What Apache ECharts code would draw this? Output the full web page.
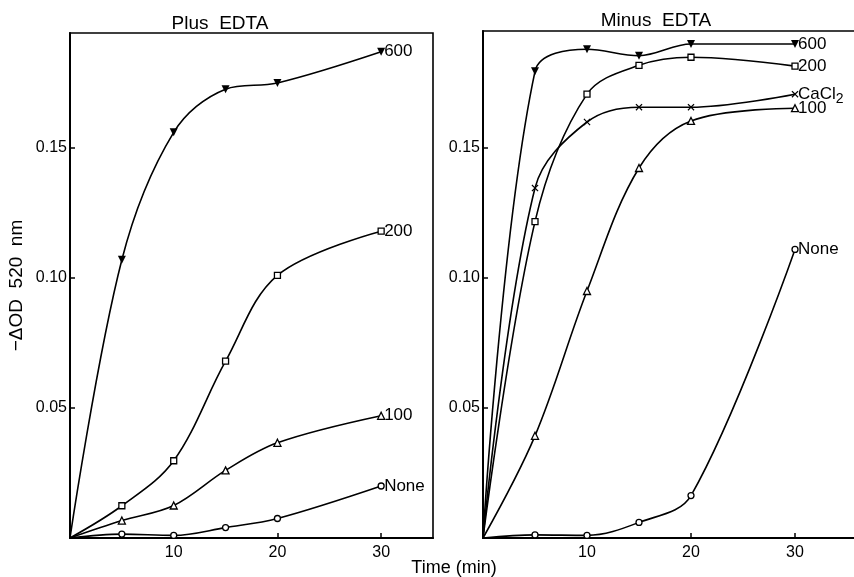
<!DOCTYPE html>
<html>
<head>
<meta charset="utf-8">
<script src="https://cdn.jsdelivr.net/npm/echarts@6/dist/echarts.min.js"></script>
<style>
  html, body { margin: 0; padding: 0; background: #fff; }
  #chart { width: 854px; height: 577px; }
</style>
</head>
<body>
<div id="chart"></div>
<script>
// Sampling times (min)
const minutes = [0, 5, 10, 15, 20, 30];

// -ΔOD 520 nm, plus EDTA
const plus600  = [0, 0.107, 0.156, 0.1726, 0.175, 0.187];
const plus200  = [0, 0.0124, 0.0297, 0.068, 0.101, 0.118];
const plus100  = [0, 0.0067, 0.0125, 0.026, 0.0366, 0.047];
const plusNone = [0, 0.0015, 0.001, 0.004, 0.0075, 0.020];

// -ΔOD 520 nm, minus EDTA
const minus600   = [0, 0.1795, 0.188, 0.1855, 0.190, 0.190];
const minus200   = [0, 0.1217, 0.1707, 0.1818, 0.1849, 0.1815];
const minusCaCl2 = [0, 0.1346, 0.160, 0.1657, 0.1657, 0.1707];
const minus100   = [0, 0.0393, 0.095, 0.1423, 0.1604, 0.1653];
const minusNone  = [0, 0.0012, 0.001, 0.006, 0.0163, 0.111];

// Axis ticks
const yTicks = [0.05, 0.10, 0.15];
const xTicks = [10, 20, 30];

const FONT = '"Liberation Sans", Arial, sans-serif';
const X_PATH = 'path://M0,1.2L1.2,0L5,3.8L8.8,0L10,1.2L6.2,5L10,8.8L8.8,10L5,6.2L1.2,10L0,8.8L3.8,5Z';

const markerStyles = {
  tri_down: { symbol: 'triangle', symbolRotate: 180, symbolSize: 8, itemStyle: { color: '#000', borderColor: '#000', borderWidth: 0 } },
  square:   { symbol: 'rect', symbolSize: 6, itemStyle: { color: '#fff', borderColor: '#000', borderWidth: 1.3 } },
  tri_up:   { symbol: 'triangle', symbolSize: 7, itemStyle: { color: '#fff', borderColor: '#000', borderWidth: 1.3 } },
  circle:   { symbol: 'circle', symbolSize: 6, itemStyle: { color: '#fff', borderColor: '#000', borderWidth: 1.3 } },
  cross:    { symbol: X_PATH, symbolSize: 7, itemStyle: { color: '#000', borderWidth: 0 } }
};

function makeSeries(name, values, marker, panel, labelText, rich) {
  const m = markerStyles[marker];
  return {
    name: name,
    type: 'line',
    xAxisIndex: panel,
    yAxisIndex: panel,
    smooth: 0.35,
    symbol: m.symbol,
    symbolSize: m.symbolSize,
    symbolRotate: m.symbolRotate || 0,
    showAllSymbol: true,
    itemStyle: m.itemStyle,
    lineStyle: { color: '#000', width: 1.6 },
    z: 3,
    data: minutes.map((t, i) => i === 0 ? { value: [t, values[i]], symbol: 'none' } : [t, values[i]]),
    endLabel: {
      show: true,
      formatter: labelText,
      distance: 3,
      color: '#000',
      fontFamily: FONT,
      fontSize: 17,
      rich: rich || undefined
    },
    animation: false
  };
}

const chart = echarts.init(document.getElementById('chart'), null, { renderer: 'canvas' });

const xAxisBase = {
  type: 'value',
  min: 0,
  interval: 10,
  axisLine: { show: true, onZero: false, lineStyle: { color: '#000', width: 2.2 } },
  axisTick: { show: true, inside: true, length: 5, customValues: xTicks, lineStyle: { color: '#000', width: 1.5 } },
  axisLabel: { show: true, customValues: xTicks, color: '#000', fontFamily: FONT, fontSize: 16, margin: 7 },
  splitLine: { show: false }
};

const yAxisBase = {
  type: 'value',
  min: 0,
  interval: 0.05,
  axisLine: { show: true, onZero: false, lineStyle: { color: '#000', width: 2 } },
  axisTick: { show: true, inside: true, length: 5, customValues: yTicks, lineStyle: { color: '#000', width: 1.5 } },
  axisLabel: {
    show: true, customValues: yTicks, color: '#000', fontFamily: FONT, fontSize: 16, margin: 3,
    formatter: v => v.toFixed(2)
  },
  splitLine: { show: false }
};

const titleStyle = { fontFamily: FONT, fontSize: 19, fontWeight: 'normal', color: '#000' };

chart.setOption({
  backgroundColor: '#fff',
  animation: false,
  title: [
    { text: 'Plus  EDTA', left: 215, top: 9, textAlign: 'center', textStyle: titleStyle },
    { text: 'Minus  EDTA', left: 651, top: 6, textAlign: 'center', textStyle: titleStyle },
    { text: 'Time (min)', left: 449, top: 554, textAlign: 'center',
      textStyle: Object.assign({}, titleStyle, { fontSize: 18 }) }
  ],
  grid: [
    { left: 70, top: 33, width: 363, height: 505, outerBoundsMode: 'none',
      show: true, borderColor: '#000', borderWidth: 1.6, backgroundColor: 'transparent' },
    { left: 483, top: 31, width: 390, height: 507, outerBoundsMode: 'none',
      show: true, borderColor: '#000', borderWidth: 1.6, backgroundColor: 'transparent' }
  ],
  xAxis: [
    Object.assign({}, xAxisBase, { gridIndex: 0, max: 35 }),
    Object.assign({}, xAxisBase, { gridIndex: 1, max: 37.5 })
  ],
  yAxis: [
    Object.assign({}, yAxisBase, {
      gridIndex: 0, max: 0.1942,
      name: '\u2212\u0394OD  520  nm', nameLocation: 'middle', nameRotate: 90, nameGap: 44,
      nameTextStyle: { fontFamily: FONT, fontSize: 19, color: '#000' }
    }),
    Object.assign({}, yAxisBase, { gridIndex: 1, max: 0.195 })
  ],
  series: [
    makeSeries('Plus 600', plus600, 'tri_down', 0, '600'),
    makeSeries('Plus 200', plus200, 'square', 0, '200'),
    makeSeries('Plus 100', plus100, 'tri_up', 0, '100'),
    makeSeries('Plus None', plusNone, 'circle', 0, 'None'),
    makeSeries('Minus 600', minus600, 'tri_down', 1, '600'),
    makeSeries('Minus 200', minus200, 'square', 1, '200'),
    makeSeries('Minus CaCl2', minusCaCl2, 'cross', 1, 'CaCl{s|2}',
      { s: { fontFamily: FONT, fontSize: 14, color: '#000', padding: [10, 0, 0, 0] } }),
    makeSeries('Minus 100', minus100, 'tri_up', 1, '100'),
    makeSeries('Minus None', minusNone, 'circle', 1, 'None')
  ]
});
</script>
</body>
</html>
